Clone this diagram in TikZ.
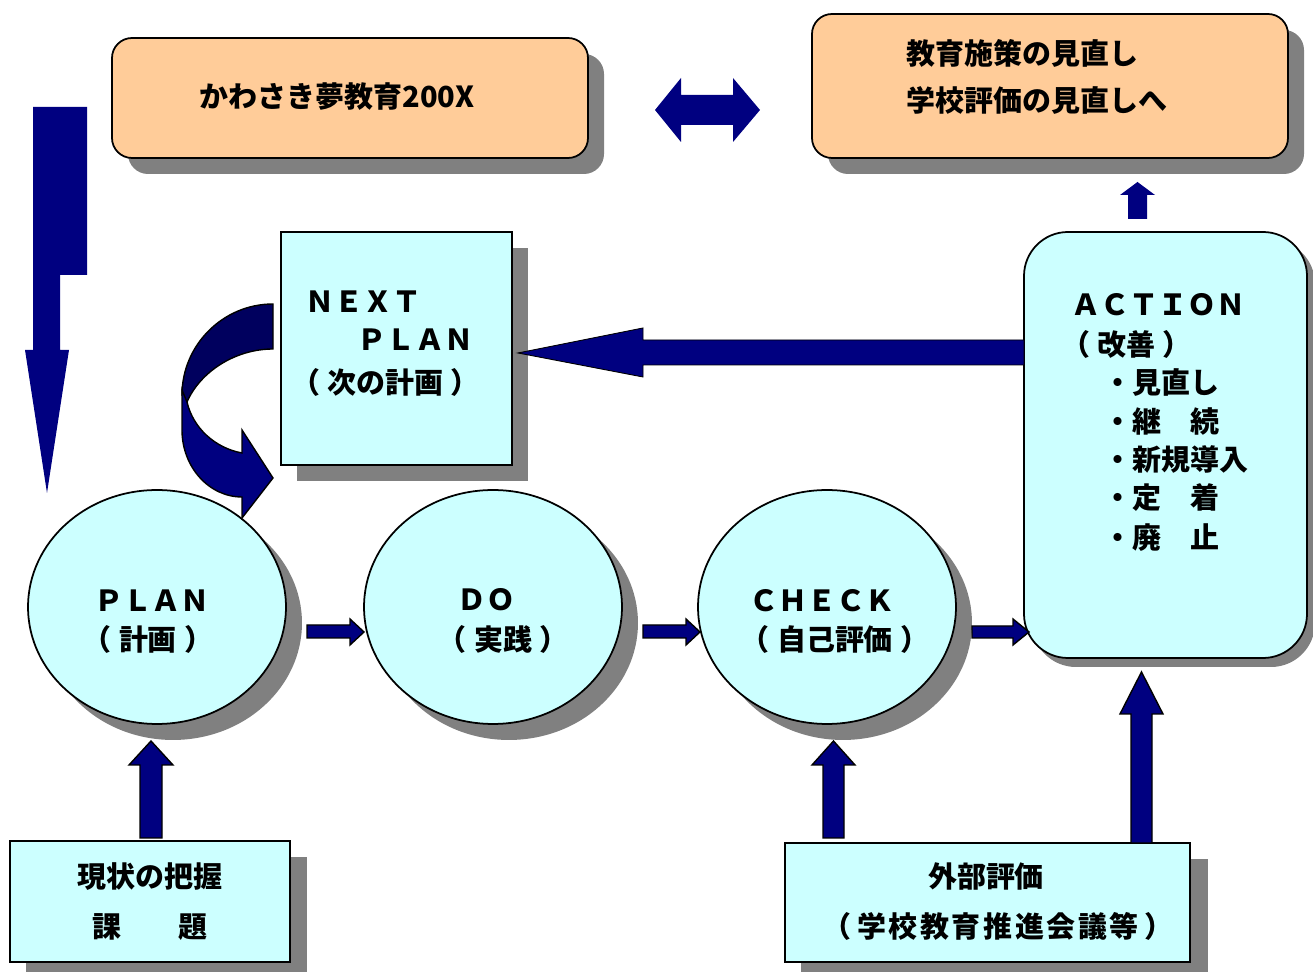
\documentclass[tikz,border=0pt]{standalone}
\usepackage{fontspec}
\setmainfont{Noto Sans CJK JP}
\definecolor{arrowblue}{RGB}{0,0,128}
\definecolor{darkarrow}{RGB}{0,0,94}
\definecolor{lightcyan}{RGB}{204,255,255}
\definecolor{peach}{RGB}{255,204,153}
\definecolor{shadowgray}{RGB}{128,128,128}

\begin{document}
\begin{tikzpicture}[x=0.02cm,y=-0.02cm,
  shadowfill/.style={fill=shadowgray,draw=none},
  cyanbox/.style={draw=black,line width=1pt,fill=lightcyan},
  peachbox/.style={draw=black,line width=1pt,fill=peach,rounded corners=0.4cm},
  blockarrow/.style={draw=black,line width=0.8pt,fill=arrowblue,line join=miter},
  flatarrow/.style={fill=arrowblue,draw=none},
  txt/.style={inner sep=0pt,text height=14.5pt,text depth=2pt,
    font=\fontsize{16.5}{20}\selectfont\bfseries}]
\useasboundingbox (0,0) rectangle (1313,972);

% shadows:
\path[shadowfill,rounded corners=0.4cm] (128,54) rectangle (604,174);
\path[shadowfill,rounded corners=0.4cm] (828,30) rectangle (1304,174);
\path[shadowfill] (297,248) rectangle (528,481);
\path[shadowfill,rounded corners=0.88cm] (1032,240) rectangle (1315,667);
\path[shadowfill] (173,623) ellipse [x radius=2.58cm,y radius=2.34cm];
\path[shadowfill] (509,623) ellipse [x radius=2.58cm,y radius=2.34cm];
\path[shadowfill] (843,623) ellipse [x radius=2.58cm,y radius=2.34cm];
\path[shadowfill] (26,857) rectangle (307,978);
\path[shadowfill] (801,859) rectangle (1208,979);

% boxes and circles:
\path[peachbox] (112,38) rectangle (588,158);
\path[peachbox] (812,14) rectangle (1288,158);
\path[cyanbox] (281,232) rectangle (512,465);
\path[cyanbox,rounded corners=0.88cm] (1024,232) rectangle (1307,658);
\path[cyanbox] (157,607) ellipse [x radius=2.58cm,y radius=2.34cm];
\path[cyanbox] (493,607) ellipse [x radius=2.58cm,y radius=2.34cm];
\path[cyanbox] (827,607) ellipse [x radius=2.58cm,y radius=2.34cm];
\path[cyanbox] (10,841) rectangle (290,962);
\path[cyanbox] (785,843) rectangle (1190,962);

% arrows:
\path[flatarrow] (33,107) -- (87,107) -- (87,275) -- (60,275) -- (60,350) -- (69,350) -- (47,493) -- (25,350) -- (33,350) -- cycle;
\path[flatarrow] (655,110) -- (681,78) -- (681,95) -- (733,95) -- (733,78) -- (760,110) -- (733,142) -- (733,125) -- (681,125) -- (681,142) -- cycle;
\path[flatarrow] (1128,219) -- (1128,195) -- (1120,195) -- (1137.5,182) -- (1155,195) -- (1147,195) -- (1147,219) -- cycle;
\path[blockarrow,line width=0.5pt] (1024,340) -- (643,340) -- (643,328) -- (518,353) -- (643,377) -- (643,365) -- (1024,365) -- cycle;
\path[blockarrow] (307,625) -- (350,625) -- (350,619) -- (364,632) -- (350,645) -- (350,638) -- (307,638) -- cycle;
\path[blockarrow] (643,625) -- (686,625) -- (686,619) -- (700,632) -- (686,645) -- (686,638) -- (643,638) -- cycle;
\path[blockarrow] (972,626) -- (1013,626) -- (1013,619) -- (1029,632) -- (1013,645) -- (1013,638) -- (972,638) -- cycle;
\path[blockarrow] (140,838) -- (140,765) -- (129,765) -- (151,741) -- (173,765) -- (162,765) -- (162,838) -- cycle;
\path[blockarrow] (823,838) -- (823,765) -- (812,765) -- (833.5,741) -- (855,765) -- (844,765) -- (844,838) -- cycle;
\path[blockarrow] (1131,843) -- (1131,714) -- (1120,714) -- (1141.5,672) -- (1163,714) -- (1152,714) -- (1152,843) -- cycle;
\path[blockarrow,fill=darkarrow] (273,304) .. controls (223,304) and (182,345) .. (182,395) -- (187,402) .. controls (200,372) and (235,349) .. (273,349) -- cycle;
\path[blockarrow] (182,390) -- (182,430) .. controls (182,467) and (209,497) .. (242,497) -- (242,518) -- (273,478) -- (242,430) -- (242,453) .. controls (215,448) and (193,428) .. (187,402) -- cycle;

% texts:
\path (337,97) node[txt] (kawasaki) {かわさき夢教育200X};
\path (906,54) node[txt,anchor=west] (policy) {教育施策の見直し};
\path (906,101) node[txt,anchor=west] (review) {学校評価の見直しへ};
\path (305,302) node[txt,anchor=west] (next) {ＮＥＸＴ};
\path (357,340) node[txt,anchor=west] (nextplan) {ＰＬＡＮ};
\path (291,383) node[txt,anchor=west] (nextjp) {（\hspace{.25em}次の計画\hspace{.25em}）};
\path (1071,305) node[txt,anchor=west] (action) {ＡＣＴＩＯＮ};
\path (1061,345) node[txt,anchor=west] (actionjp) {（\hspace{.25em}改善\hspace{.25em}）};
\path (1103,383) node[txt,anchor=west] (revise) {・見直し};
\path (1103,422) node[txt,anchor=west] (keep) {・継　続};
\path (1103,460) node[txt,anchor=west] (introduce) {・新規導入};
\path (1103,498) node[txt,anchor=west] (settle) {・定　着};
\path (1103,538) node[txt,anchor=west] (abolish) {・廃　止};
\path (152,601) node[txt] (plan) {ＰＬＡＮ};
\path (148,640) node[txt] (planjp) {（\hspace{.25em}計画\hspace{.25em}）};
\path (486,600) node[txt] (do) {ＤＯ};
\path (503,640) node[txt] (dojp) {（\hspace{.25em}実践\hspace{.25em}）};
\path (822,601) node[txt] (check) {ＣＨＥＣＫ};
\path (835,640) node[txt] (checkjp) {（\hspace{.25em}自己評価\hspace{.25em}）};
\path (150,877) node[txt] (status) {現状の把握};
\path (150,927) node[txt] (issues) {課　　題};
\path (986,877) node[txt] (external) {外部評価};
\path (998,927) node[txt] (council) {\addfontfeature{LetterSpace=9}（\hspace{.2em}学校教育推進会議等\hspace{.2em}）};

\end{tikzpicture}
\end{document}
